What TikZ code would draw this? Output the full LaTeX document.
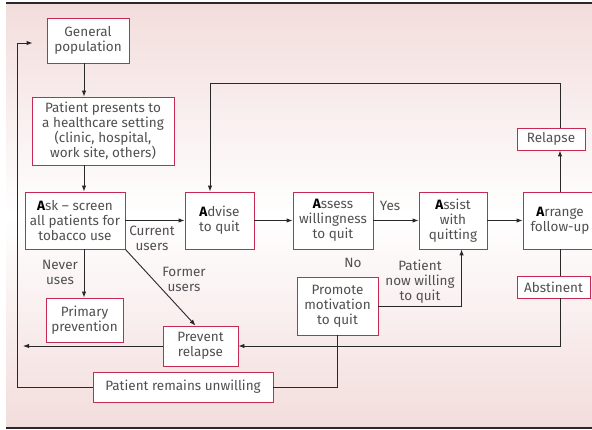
\documentclass[tikz,border=0pt]{standalone}
\usepackage{fontspec}
\setmainfont{Fira Sans}
\usetikzlibrary{calc}
\usetikzlibrary{positioning}
\usetikzlibrary{arrows.meta}
\definecolor{boxred}{RGB}{198,42,82}
\definecolor{bgpink}{RGB}{242,221,220}
\definecolor{txtgray}{RGB}{80,80,80}
\definecolor{linegray}{RGB}{40,40,40}
\newcommand{\bigA}{\textbf{\color{black}A}}
\tikzset{
  stage/.style={draw=boxred, fill=white, line width=0.9pt, align=center, text=txtgray,
    inner sep=1pt, font=\fontsize{13.5}{15}\selectfont},
  lbl/.style={align=center, text=txtgray, inner sep=0pt, font=\fontsize{13.5}{15}\selectfont},
  conn/.style={draw=linegray, line width=0.9pt},
  arr/.style={conn, -{Latex[length=6pt,width=4.5pt]}}
}

\begin{document}
\begin{tikzpicture}[x=1pt, y=-1pt]
      \useasboundingbox (0,0) rectangle (592,430);
      \clip (0,0) rectangle (592,430);
      \shade[top color=bgpink, bottom color=bgpink, middle color=white] (6,4) rectangle (592,427);
      \draw[linegray, line width=1.5pt] (6,3) -- (592,3);
      \draw[linegray, line width=1.5pt] (6,428) -- (592,428);

      \coordinate (xa) at (84,0);
      \coordinate (loopL) at (17,43);
      \coordinate (loopT) at (210,83);

      \node[stage, minimum width=82, minimum height=45] (gen) at (88,40.5) {General\\population};
      \node[stage, minimum width=142, minimum height=68] (pres) at (103,131) {Patient presents to\\a healthcare setting\\(clinic, hospital,\\work site, others)};
      \node[stage, minimum width=100, minimum height=57] (ask) at (75,220.5) {\bigA sk -- screen\\all patients for\\tobacco use};
      \node[stage, minimum width=69, minimum height=57] (adv) at (219.5,220.5) {\bigA dvise\\to quit};
      \node[stage, minimum width=80, minimum height=57] (asse) at (333,220.5) {\bigA ssess\\willingness\\to quit};
      \node[stage, minimum width=68, minimum height=57] (assi) at (453,220.5) {\bigA ssist\\with\\quitting};
      \node[stage, minimum width=74, minimum height=57] (arr) at (560,220.5) {\bigA rrange\\follow-up};
      \node[stage, minimum width=68, minimum height=22] (rel) at (551,139) {Relapse};
      \node[stage, minimum width=73, minimum height=22] (abst) at (553.5,287) {Abstinent};
      \node[stage, minimum width=77, minimum height=44] (prim) at (84.5,320) {Primary\\prevention};
      \node[stage, minimum width=75, minimum height=40] (prev) at (200.5,346) {Prevent\\relapse};
      \node[stage, minimum width=81, minimum height=58] (prom) at (337.5,306) {Promote\\motivation\\to quit};
      \node[stage, minimum width=180, minimum height=30] (unw) at (183,387) {Patient remains unwilling};

      \node[lbl] (cur) at (152,238) {Current\\users};
      \node[lbl] (never) at (60,272) {Never\\uses};
      \node[lbl] (former) at (184,279) {Former\\users};
      \node[lbl] (yes) at (390,206) {Yes};
      \node[lbl] (no) at (353,263) {No};
      \node[lbl] (now) at (420,282) {Patient\\now willing\\to quit};

      \draw[arr] (gen.south -| xa) -- (pres.north -| xa);
      \draw[arr] (pres.south -| xa) -- (ask.north -| xa);
      \draw[arr] (ask.south -| xa) -- (prim.north -| xa);
      \draw[arr] (ask.east) -- (adv.west);
      \draw[arr] (adv.east) -- (asse.west);
      \draw[arr] (asse.east) -- (assi.west);
      \draw[arr] (assi.east) -- (arr.west);
      \draw[arr] (ask.south east) -- ($(prev.north)+(-5,0)$);
      \draw[arr] (prom.east) -| ($(assi.south)!0.25!(assi.south east)$);
      \draw[arr] (arr.north) -- (arr.north |- rel.south);
      \draw[arr] (rel.north -| arr.north) |- (loopT) -- (adv.north -| loopT);
      \draw[conn] (arr.south) -- (arr.south |- abst.north);
      \draw[arr] (abst.south -| arr.south) |- (prev.east);
      \draw[arr, shorten >=6pt] (prev.west) -- (prev.west -| loopL);
      \draw[conn] (prom.south) |- (unw.east);
      \draw[arr, shorten >=14pt] (unw.west) -| (loopL) -- (loopL -| gen.west);
\end{tikzpicture}
\end{document}
